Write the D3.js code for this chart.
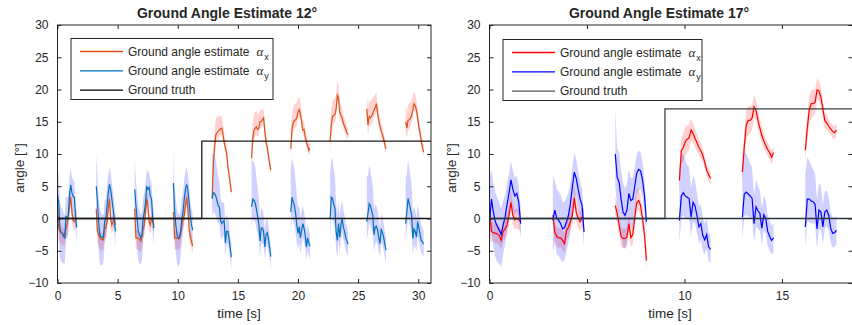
<!DOCTYPE html>
<html>
<head>
<meta charset="utf-8">
<script src="https://cdn.jsdelivr.net/npm/d3@7/dist/d3.min.js"></script>
<style>
  body { margin: 0; background: #fff; }
  text { font-family: "Liberation Sans", Arial, Helvetica, sans-serif; fill: #262626; }
</style>
</head>
<body>
<svg id="chart" width="852" height="325"></svg>
<script>
// relative time of every sample inside one walking segment [s]
const tRel = [0, 0.1, 0.2, 0.3, 0.4, 0.5, 0.6, 0.7, 0.8, 0.9, 1.0, 1.1, 1.2, 1.3, 1.4, 1.5, 1.6]
const yTicks = [-10, -5, 0, 5, 10, 15, 20, 25, 30]

// ---- 12 degree run
const leftStarts = [0, 3.22, 6.42, 9.64, 12.86, 16.14, 19.4, 22.67, 25.72, 28.95]
const leftAlphaX = [
  [2.5, -1.5, -2.0, -2.2, -2.3, -2.5, -2.8, -1.5, -1.0, 0.5, 2.0, 3.3, 1.0, -0.3, -0.5, -0.2, 0.0],
  [1.5, -2.0, -2.5, -3.0, -3.2, -3.3, -3.3, -1.5, -1.5, -0.5, 1.5, 3.0, 0.0, -1.0, -0.5, 0.0, -1.0],
  [1.5, -3.0, -3.0, -3.1, -3.2, -3.5, -3.0, -1.5, -1.0, 1.0, 3.0, 2.0, -0.5, -1.0, 0.0, -0.5, -1.0],
  [1.0, -3.0, -3.0, -3.0, -3.2, -3.0, -2.5, -1.0, 0.0, 0.5, 2.0, 3.3, 1.5, -1.5, -2.8, -3.5, -4.3],
  [3.1, 8.5, 11.0, 12.9, 13.3, 13.5, 13.7, 13.9, 14.0, 13.0, 11.8, 11.0, 10.2, 8.2, 6.8, 5.4, 4.1],
  [9.3, 12.5, 13.7, 14.0, 14.2, 13.8, 14.0, 15.0, 15.0, 15.3, 15.6, 13.5, 11.8, 11.1, 9.8, 8.5, 7.5],
  [10.8, 13.8, 14.8, 15.2, 15.3, 15.6, 16.5, 16.9, 16.2, 15.0, 13.7, 13.8, 12.6, 11.8, 11.3, 10.6, 10.9],
  [12.0, 14.5, 15.8, 16.0, 16.1, 17.0, 19.1, 18.7, 16.5, 16.0, 15.6, 14.8, 14.3, 13.8, 13.3, 13.0],
  [17.0, 14.5, 15.8, 15.6, 15.9, 16.3, 16.8, 17.2, 17.8, 16.2, 15.2, 14.3, 13.5, 13.0, 12.3, 11.5, 10.8],
  [15.0, 14.0, 15.2, 15.3, 15.5, 16.0, 16.8, 17.8, 17.5, 16.8, 15.6, 14.2, 13.2, 12.0, 11.0, 10.3]
]
const leftAlphaY = [
  [3.8, 2.5, -1.5, -2.2, -2.3, -2.8, -3.0, 0.3, 0.2, 0.5, 3.8, 5.2, 4.0, 3.4, 3.3, 0.3, -1.4],
  [5.0, 2.8, -0.5, -2.5, -2.8, -3.0, -2.8, -0.5, 0.0, 2.0, 4.0, 5.3, 4.5, 3.0, 1.5, 0.0, -2.0],
  [4.5, 2.0, 0.0, -2.0, -2.5, -3.0, -2.5, 0.0, 1.0, 2.5, 5.0, 4.5, 4.8, 3.5, 3.0, 0.0, -1.5],
  [5.5, 1.0, -1.0, -2.5, -3.0, -3.0, -2.0, 0.0, 1.0, 3.0, 4.5, 5.3, 4.5, 2.5, 0.5, -1.0, -1.8],
  [3.1, 4.0, 3.9, 3.5, 2.8, 2.0, 1.8, -0.3, -0.8, -0.5, -0.3, -3.8, -2.0, -2.0, -3.0, -4.5, -6.0],
  [1.8, 3.0, 2.8, 2.4, 1.5, 0.3, -0.8, -3.5, -1.5, -1.5, -2.0, -4.4, -2.5, -2.2, -3.2, -4.5, -5.9],
  [1.0, 3.3, 2.6, 2.0, 0.8, -1.0, -2.3, -1.3, -3.0, -1.8, -0.8, -1.5, -2.6, -4.4, -3.0, -3.8, -4.3],
  [0.0, 3.3, 3.1, 2.2, 1.6, -2.0, -3.4, -0.8, -2.9, -1.0, 0.0, -1.3, -2.0, -3.0, -3.5, -4.0],
  [-0.5, 0.8, 2.3, 2.0, 1.2, 0.5, -2.5, -1.3, -1.2, -1.8, -3.0, -3.9, -1.6, -2.2, -2.9, -4.0, -4.9],
  [-0.8, 1.0, 3.1, 2.3, 1.5, 0.5, -3.1, -1.6, -2.0, -2.9, -0.5, -1.5, -2.5, -3.4, -3.6, -4.0]
]
const leftTruthT = [0, 12, 12, 31.06]
const leftTruthV = [0, 0, 12, 12]

// uncertainty band offsets, before and after the slope change
const leftBandXLowUp = [1.5, 1.2, 1.2, 1.2, 1.1, 1.0, 1.0, 1.0, 1.0, 1.2, 1.3, 1.5, 1.3, 1.2, 1.0, 1.0, 1.0]
const leftBandXLowDn = [2.0, 1.8, 1.8, 1.8, 1.8, 1.7, 1.6, 1.5, 1.5, 1.5, 1.5, 1.5, 1.5, 1.4, 1.3, 1.2, 1.2]
const leftBandYLowUp = [5.0, 4.0, 4.0, 4.0, 3.8, 3.6, 3.4, 3.2, 3.0, 3.0, 2.8, 2.6, 2.5, 2.5, 2.5, 2.5, 2.5]
const leftBandYLowDn = [4.0, 4.0, 4.5, 4.5, 4.5, 4.2, 4.0, 3.5, 3.2, 3.0, 2.8, 2.6, 2.5, 2.5, 2.5, 2.5, 2.5]
const leftBandXHighUp = [2.5, 2.5, 2.5, 2.5, 2.5, 2.3, 2.2, 2.0, 1.8, 1.6, 1.5, 1.3, 1.2, 1.1, 1.0, 1.0, 1.0]
const leftBandXHighDn = [1.5, 1.5, 1.5, 1.3, 1.2, 1.2, 1.1, 1.0, 1.0, 1.0, 0.9, 0.9, 0.8, 0.8, 0.8, 0.8, 0.8]
const leftBandYHighUp = [7.0, 6.0, 6.0, 5.5, 5.0, 4.5, 4.0, 3.5, 3.2, 3.0, 2.8, 2.6, 2.5, 2.3, 2.2, 2.0, 2.0]
const leftBandYHighDn = [3.0, 3.0, 3.0, 3.0, 3.0, 2.8, 2.6, 2.5, 2.4, 2.3, 2.2, 2.1, 2.0, 2.0, 2.0, 2.0, 2.0]

// ---- 17 degree run
const rightStarts = [0, 3.25, 6.45, 9.74, 12.97, 16.2]
const rightAlphaX = [
  [1.3, -2.0, -2.2, -2.3, -2.4, -2.6, -3.4, -2.0, -1.6, -1.0, 0.5, 2.5, 0.5, -0.2, 0.0, -0.2, -0.5],
  [0.5, -2.1, -2.8, -3.0, -3.0, -3.4, -3.9, -1.8, -1.4, -0.5, 0.5, 3.2, 1.0, 0.0, -0.5, 0.2, 0.0],
  [2.0, 0.8, -1.0, -2.8, -3.1, -3.1, -2.9, -0.8, -3.0, -2.5, 0.2, 2.4, 2.8, 2.0, 0.0, -2.5, -6.5],
  [5.9, 10.5, 11.0, 11.9, 12.3, 12.5, 13.7, 13.2, 12.4, 11.8, 11.0, 10.5, 9.8, 8.7, 7.5, 6.8, 6.2],
  [7.2, 11.2, 14.5, 15.2, 15.2, 15.6, 17.3, 16.8, 15.2, 14.0, 12.9, 12.0, 11.3, 10.7, 10.2, 9.5, 10.2],
  [10.6, 14.0, 16.8, 17.8, 17.8, 18.0, 19.9, 19.8, 18.8, 17.0, 15.2, 14.8, 14.3, 13.9, 13.5, 13.3, 13.7]
]
const rightAlphaY = [
  [-0.5, 3.0, 1.0, -0.5, -1.2, -1.8, -2.5, -1.0, 0.2, 2.2, 3.9, 6.0, 4.5, 3.5, 3.9, 2.5, -0.8],
  [-0.3, 1.3, 0.0, -0.3, -0.8, -1.6, -1.4, -0.5, 0.5, 2.3, 4.9, 7.2, 6.2, 4.5, 3.0, 2.0, -2.1],
  [10.0, 6.4, 5.6, 3.0, 1.0, 0.5, 1.3, 3.9, 2.8, 3.0, 5.0, 7.0, 7.6, 7.4, 6.0, 3.5, -0.5],
  [-0.3, 3.5, 4.0, 3.5, 3.3, 3.1, 0.2, 2.5, 2.0, 0.5, -1.3, -0.8, -2.6, -3.3, -2.5, -4.4, -4.8],
  [0.2, 3.8, 4.1, 3.8, 3.5, 3.1, -0.8, 1.8, 1.2, 0.8, -1.5, 0.6, 0.0, -2.0, -2.8, -3.4, -3.0],
  [-1.3, 3.0, 3.0, 2.7, 2.6, 2.2, -1.6, 1.3, 1.0, -1.3, 1.0, 1.3, 0.5, -1.5, -2.3, -2.2, -1.8]
]
const rightTruthT = [0, 9, 9, 18.7]
const rightTruthV = [0, 0, 17, 17]

const rightBandXLowUp = [1.5, 1.5, 1.5, 1.5, 1.5, 1.5, 1.5, 1.5, 1.6, 1.8, 2.0, 2.0, 1.8, 1.6, 1.5, 1.5, 1.5]
const rightBandXLowDn = [1.5, 1.5, 1.5, 1.5, 1.5, 1.5, 1.5, 1.5, 1.5, 1.5, 1.5, 1.5, 1.5, 1.5, 1.5, 1.5, 1.5]
const rightBandYLowUp = [7.0, 4.5, 4.5, 4.5, 4.5, 4.2, 4.0, 3.8, 3.5, 3.3, 3.0, 3.0, 3.0, 2.8, 2.8, 2.5, 2.5]
const rightBandYLowDn = [5.0, 5.0, 5.5, 5.5, 5.5, 5.2, 5.0, 4.5, 4.2, 4.0, 3.8, 3.5, 3.2, 3.0, 2.8, 2.5, 2.5]
const rightBandXHighUp = [2.0, 2.0, 2.2, 2.2, 2.2, 2.0, 1.8, 1.6, 1.5, 1.4, 1.3, 1.2, 1.1, 1.0, 1.0, 1.0, 1.0]
const rightBandXHighDn = [2.0, 2.0, 2.2, 2.2, 2.0, 1.8, 1.6, 1.5, 1.4, 1.3, 1.2, 1.1, 1.0, 1.0, 1.0, 1.0, 1.0]
const rightBandYHighUp = [8.0, 6.5, 6.0, 5.5, 5.0, 4.8, 4.5, 4.2, 4.0, 3.5, 3.2, 3.0, 2.8, 2.5, 2.5, 2.3, 2.2]
const rightBandYHighDn = [3.5, 3.5, 3.5, 3.5, 3.3, 3.2, 3.0, 3.0, 2.8, 2.7, 2.6, 2.5, 2.4, 2.3, 2.2, 2.2, 2.2]

const svg = d3.select('#chart')
const plotTop = 25, plotBottom = 283
const y = d3.scaleLinear().domain([-10, 30]).range([plotBottom, plotTop])

function drawPanel(p) {
  const x = d3.scaleLinear().domain(p.domain).range(p.range)
  const g = svg.append('g')
  const clipId = 'clip' + p.id
  svg.append('clipPath').attr('id', clipId)
    .append('rect')
    .attr('x', p.range[0]).attr('y', plotTop)
    .attr('width', p.range[1] - p.range[0]).attr('height', plotBottom - plotTop)

  const plot = g.append('g').attr('clip-path', `url(#${clipId})`)

  const area = d3.area()
    .x(d => x(d.t))
    .y0(d => y(d.v - d.dn))
    .y1(d => y(d.v + d.up))
  const line = d3.line().x(d => x(d.t)).y(d => y(d.v))

  const segs = p.starts.map((s, i) => {
    const high = s > p.stepT
    const bx = high ? p.bandXHigh : p.bandXLow
    const by = high ? p.bandYHigh : p.bandYLow
    return {
      ax: p.alphaX[i].map((v, k) => ({ t: s + tRel[k], v, up: bx[0][k], dn: bx[1][k] })),
      ay: p.alphaY[i].map((v, k) => ({ t: s + tRel[k], v, up: by[0][k], dn: by[1][k] }))
    }
  })

  // bands
  plot.selectAll('.bandx').data(segs).enter().append('path')
    .attr('d', d => area(d.ax))
    .attr('fill', '#ff0000').attr('fill-opacity', 0.18)
  plot.selectAll('.bandy').data(segs).enter().append('path')
    .attr('d', d => area(d.ay))
    .attr('fill', '#0000ff').attr('fill-opacity', 0.18)

  // estimates
  plot.selectAll('.lx').data(segs).enter().append('path')
    .attr('d', d => line(d.ax))
    .attr('fill', 'none').attr('stroke', p.colX).attr('stroke-width', 1.2)
  plot.selectAll('.ly').data(segs).enter().append('path')
    .attr('d', d => line(d.ay))
    .attr('fill', 'none').attr('stroke', p.colY).attr('stroke-width', 1.2)

  // ground truth: step for alpha_x, zero for alpha_y
  const truth = p.truthT.map((t, k) => ({ t, v: p.truthV[k] }))
  plot.append('path').attr('d', line(truth))
    .attr('fill', 'none').attr('stroke', p.colT).attr('stroke-width', 1.3)
  plot.append('path').attr('d', line([{ t: p.domain[0], v: 0 }, { t: p.domain[1], v: 0 }]))
    .attr('fill', 'none').attr('stroke', p.colT0).attr('stroke-width', 1.3)

  // axes, MATLAB-like inward ticks on all four sides
  const xTicks = d3.range(0, p.domain[1], 5)
  const axB = g.append('g').attr('transform', `translate(0,${plotBottom})`)
    .call(d3.axisBottom(x).tickValues(xTicks).tickSize(-4).tickPadding(8.5).tickFormat(d3.format('d')))
  const axT = g.append('g').attr('transform', `translate(0,${plotTop})`)
    .call(d3.axisTop(x).tickValues(xTicks).tickSize(-4).tickFormat(''))
  const axL = g.append('g').attr('transform', `translate(${p.range[0]},0)`)
    .call(d3.axisLeft(y).tickValues(yTicks).tickSize(-4).tickPadding(9))
  const axR = g.append('g').attr('transform', `translate(${p.range[1]},0)`)
    .call(d3.axisRight(y).tickValues(yTicks).tickSize(-4).tickFormat(''))
  ;[axB, axT, axL, axR].forEach(a => {
    a.select('.domain').remove()
    a.selectAll('line').attr('stroke', '#262626')
    a.selectAll('text').attr('font-size', 12).attr('fill', '#262626')
      .style('font-family', '"Liberation Sans", Arial, sans-serif')
  })
  g.append('rect')
    .attr('x', p.range[0]).attr('y', plotTop)
    .attr('width', p.range[1] - p.range[0]).attr('height', plotBottom - plotTop)
    .attr('fill', 'none').attr('stroke', '#262626').attr('stroke-width', 1)

  // labels
  g.append('text').attr('x', p.titleX).attr('y', 18)
    .attr('text-anchor', 'middle').attr('font-size', 14).attr('font-weight', 'bold')
    .attr('fill', '#000').text(p.title)
  g.append('text').attr('x', p.timeX).attr('y', 318)
    .attr('text-anchor', 'middle').attr('font-size', 13.5).text('time [s]')
  g.append('text')
    .attr('transform', `translate(${p.range[0] - 34},${(plotTop + plotBottom) / 2 + 14}) rotate(-90)`)
    .attr('text-anchor', 'middle').attr('font-size', 13.5).text('angle [°]')

  // legend
  const lg = g.append('g').attr('transform', `translate(${p.legX},${p.legY})`)
  lg.append('rect').attr('width', p.legW).attr('height', 61)
    .attr('fill', '#fff').attr('stroke', '#262626').attr('stroke-width', 1)
  const items = [
    { c: p.colX, sub: 'x' },
    { c: p.colY, sub: 'y' },
    { c: p.colLegT, sub: null }
  ]
  items.forEach((it, i) => {
    const ry = 13 + i * 19.3
    lg.append('line').attr('x1', 9).attr('x2', 52).attr('y1', ry).attr('y2', ry)
      .attr('stroke', it.c).attr('stroke-width', 1.3)
    const t = lg.append('text').attr('x', 57).attr('y', ry + 4).attr('font-size', 12)
    if (it.sub) {
      t.append('tspan').text('Ground angle estimate')
      t.append('tspan').attr('dx', 7).attr('font-style', 'italic')
        .style('font-family', '"Liberation Serif", "DejaVu Serif", serif')
        .attr('font-size', 13).text('α')
      t.append('tspan').attr('dx', 1).attr('dy', 4).attr('font-size', 9).text(it.sub)
    } else {
      t.text('Ground truth')
    }
  })
}

drawPanel({
  id: 'L', domain: [0, 31.06], range: [57.5, 431],
  starts: leftStarts, alphaX: leftAlphaX, alphaY: leftAlphaY, stepT: 12,
  bandXLow: [leftBandXLowUp, leftBandXLowDn], bandYLow: [leftBandYLowUp, leftBandYLowDn],
  bandXHigh: [leftBandXHighUp, leftBandXHighDn], bandYHigh: [leftBandYHighUp, leftBandYHighDn],
  truthT: leftTruthT, truthV: leftTruthV,
  colX: '#D95319', colY: '#0072BD', colT: '#1a1a1a', colT0: '#1a1a1a', colLegT: '#000',
  title: 'Ground Angle Estimate 12°', titleX: 227, timeX: 239,
  legX: 71, legY: 38.5, legW: 202
})

drawPanel({
  id: 'R', domain: [0, 18.62], range: [489.5, 852.5],
  starts: rightStarts, alphaX: rightAlphaX, alphaY: rightAlphaY, stepT: 9,
  bandXLow: [rightBandXLowUp, rightBandXLowDn], bandYLow: [rightBandYLowUp, rightBandYLowDn],
  bandXHigh: [rightBandXHighUp, rightBandXHighDn], bandYHigh: [rightBandYHighUp, rightBandYHighDn],
  truthT: rightTruthT, truthV: rightTruthV,
  colX: '#ff0000', colY: '#0000ff', colT: '#404040', colT0: '#2a3540', colLegT: '#555',
  title: 'Ground Angle Estimate 17°', titleX: 659, timeX: 670,
  legX: 503, legY: 39.5, legW: 199
})
</script>
</body>
</html>
